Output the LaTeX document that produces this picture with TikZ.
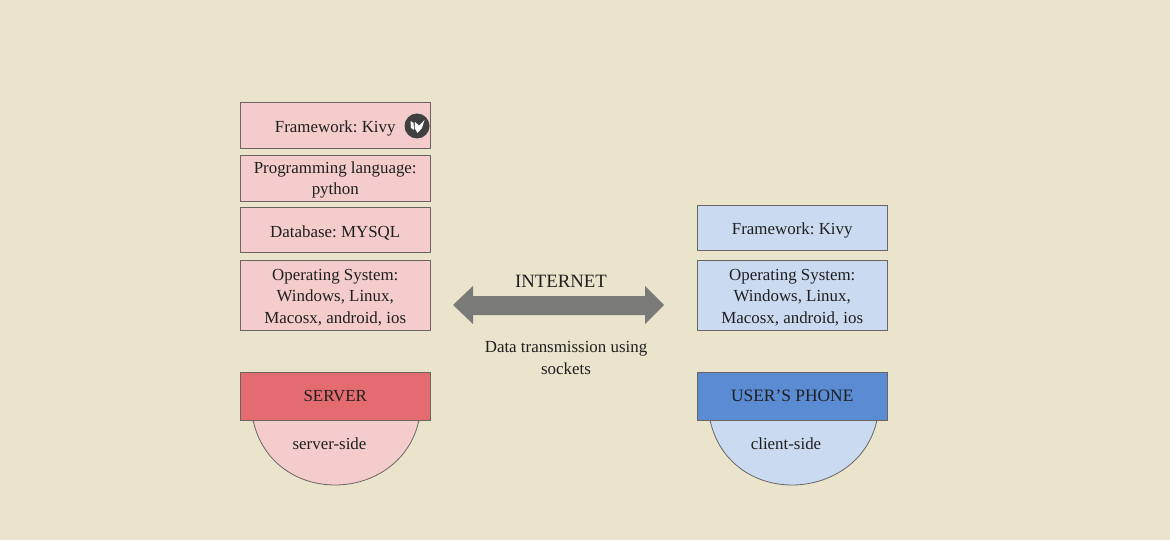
\documentclass[tikz,border=0pt]{standalone}
\usepackage{fontspec}
\setmainfont{Liberation Serif}
\definecolor{bg}{HTML}{EAE4CD}
\definecolor{pinkf}{HTML}{F4CCCC}
\definecolor{bluef}{HTML}{C9DAF1}
\definecolor{redf}{HTML}{E46C70}
\definecolor{bluedark}{HTML}{5B8BD3}
\definecolor{edge}{HTML}{6B6460}
\definecolor{txt}{HTML}{1F1F1F}
\definecolor{arrowf}{HTML}{7A7A78}
\newcommand{\dn}[2]{\raisebox{-#1pt}[\height][\depth]{\parbox{188pt}{\centering #2}}}
\tikzset{
 x=1pt,y=-1pt,
 bx/.style={draw=edge,line width=0.8pt,minimum width=190.5pt,inner sep=0pt,align=center,text=txt,font=\frenchspacing\fontsize{16.9}{21.5}\selectfont},
 lbl/.style={text=txt,align=center,font=\frenchspacing\fontsize{16.9}{21.5}\selectfont,inner sep=0pt},
 bowl/.style={draw=edge,line width=0.8pt},
}
\begin{document}
\begin{tikzpicture}
\useasboundingbox[fill=bg] (0,0) rectangle (1170,540);
% server column
\node[bx,fill=pinkf,minimum height=46pt] (fw) at (335.25,125) {\dn{3}{Framework: Kivy}};
\node[fill=black!75,circle,minimum size=25pt,inner sep=0pt] (logo) at (417,126) {};
\fill[white] (410.5,121) -- (413.5,123) -- (414,130) -- (411,128) -- cycle;
\fill[white] (415,122) -- (419,125.5) -- (424.5,120) -- (422,128) -- (417.5,133) -- (414.5,128) -- cycle;
\node[bx,fill=pinkf,minimum height=46pt] (pl) at (335.25,178) {\dn{2}{Programming language:\\python}};
\node[bx,fill=pinkf,minimum height=45pt] (db) at (335.25,229.5) {\dn{3.5}{Database: MYSQL}};
\node[bx,fill=pinkf,minimum height=70pt] (os) at (335.25,295) {\dn{2.5}{Operating System:\\Windows, Linux,\\Macosx, android, ios}};
\draw[bowl,fill=pinkf] (253,420) .. controls (262,462) and (297,485) .. (335,485) .. controls (373,485) and (410,462) .. (419,420) -- cycle;
\node[bx,fill=redf,minimum height=48pt] (srv) at (335.25,396) {SERVER};
\node[lbl] (ss) at (329.5,444) {server-side};
% client column
\node[bx,fill=bluef,minimum height=45pt] (cfw) at (792.25,227.5) {\dn{2.5}{Framework: Kivy}};
\node[bx,fill=bluef,minimum height=70pt] (cos) at (792.25,295) {\dn{2.5}{Operating System:\\Windows, Linux,\\Macosx, android, ios}};
\draw[bowl,fill=bluef] (710,420) .. controls (719,462) and (754,485) .. (792,485) .. controls (830,485) and (868,462) .. (877,420) -- cycle;
\node[bx,fill=bluedark,minimum height=48pt,font=\frenchspacing\fontsize{17.4}{21.5}\selectfont] (ph) at (792.25,396) {USER’S PHONE};
\node[lbl] (cs) at (786,444) {client-side};
% internet
\fill[arrowf] (453,305) -- (473,286) -- (473,296) -- (645,296) -- (645,286) -- (664,305) -- (645,324) -- (645,315) -- (473,315) -- (473,324) -- cycle;
\node[lbl,font=\fontsize{18.8}{21.5}\selectfont] (inet) at (561,281) {INTERNET};
\node[lbl] (dt) at (566,358) {Data transmission using\\sockets};
\end{tikzpicture}
\end{document}
